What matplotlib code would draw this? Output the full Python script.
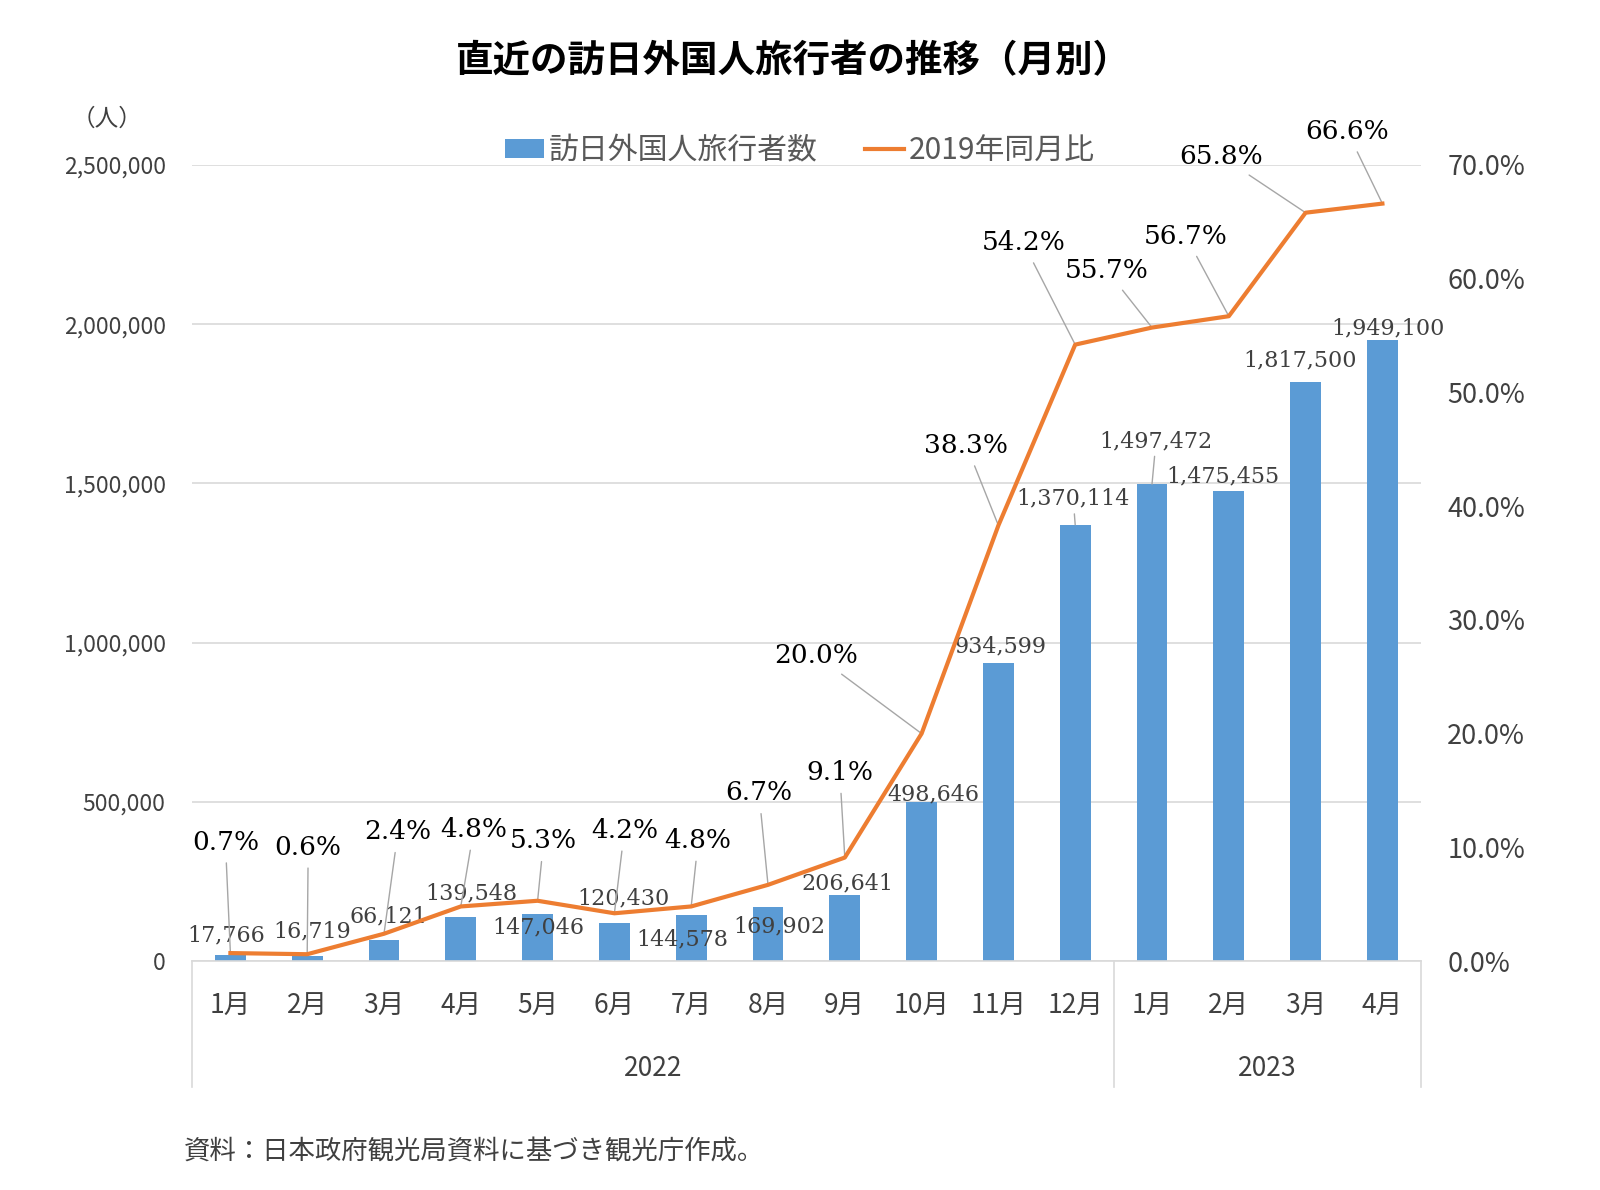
import matplotlib
matplotlib.use('Agg')
import matplotlib.pyplot as plt
import matplotlib.ticker as mticker
import matplotlib.transforms as mtransforms
from matplotlib.patches import Patch
from matplotlib.lines import Line2D
import numpy as np

plt.rcParams['font.family'] = ['Noto Sans CJK JP', 'DejaVu Sans']

months = ['1月', '2月', '3月', '4月', '5月', '6月', '7月', '8月', '9月', '10月', '11月', '12月',
          '1月', '2月', '3月', '4月']
years = ['2022', '2023']
year_span = [12, 4]
visitors = [17766, 16719, 66121, 139548, 147046, 120430, 144578, 169902, 206641,
            498646, 934599, 1370114, 1497472, 1475455, 1817500, 1949100]
ratio_2019 = [0.7, 0.6, 2.4, 4.8, 5.3, 4.2, 4.8, 6.7, 9.1,
              20.0, 38.3, 54.2, 55.7, 56.7, 65.8, 66.6]   # % of same month 2019

# where the data labels were dragged to (pixels from the point)
visitor_offsets = [(-4, 20), (5, 24), (4, 24), (11, 23), (1, -13), (9, 24), (-9, -24), (11, -19),
                   (3, 12), (12, 8), (2, 17), (-2, 26), (4, 43), (-6, 15), (-6, 22), (6, 12)]
visitor_leader = [11, 12]
ratio_offsets = [(-5, 111), (1, 107), (14, 102), (13, 77), (6, 60), (10, 83), (7, 66), (-9, 92),
                 (-5, 85), (-105, 78), (-32, 80), (-52, 102), (-45, 57), (-43, 80), (-84, 56), (-35, 72)]

bar_color = '#5B9BD5'
line_color = '#ED7D31'
grid_color = '#D9D9D9'
text_color = '#404040'
leader_color = '#A6A6A6'

fig = plt.figure(figsize=(16, 11.9), dpi=100)
ax = fig.add_axes([0.12, 0.1924, 0.768, 0.669])
x = np.arange(len(months))

ax.bar(x, visitors, width=0.4, color=bar_color, zorder=2)
ax.set_xlim(-0.5, len(months) - 0.5)
ax.set_ylim(0, 2500000)
ax.set_yticks(np.arange(0, 2500001, 500000))
ax.yaxis.set_major_formatter(mticker.FuncFormatter(lambda v, p: '{:,.0f}'.format(v)))
ax.yaxis.grid(True, color=grid_color, lw=1.2)
ax.set_axisbelow(True)
for s in ['top', 'left', 'right']:
    ax.spines[s].set_visible(False)
ax.spines['bottom'].set_color(grid_color)
ax.spines['bottom'].set_linewidth(1.2)
ax.tick_params(axis='y', length=0, pad=19, labelsize=16.5, labelcolor=text_color)
ax.set_xticks(x)
ax.set_xticklabels(months)
ax.tick_params(axis='x', length=0, pad=23, labelsize=19, labelcolor=text_color)

# second level of the category axis
trans = mtransforms.blended_transform_factory(ax.transData, ax.transAxes)
start = 0
bounds = [-0.5]
for yr, n in zip(years, year_span):
    ax.text(start + n / 2 - 0.5, -0.135, yr, transform=trans, ha='center', va='center',
            fontsize=19, color=text_color)
    start += n
    bounds.append(start - 0.5)
for b in bounds:
    ax.plot([b, b], [0, -0.158], transform=trans, color=grid_color, lw=1.2, clip_on=False)

for i, v in enumerate(visitors):
    arrow = dict(arrowstyle='-', color=leader_color, lw=1, shrinkA=1, shrinkB=0) if i in visitor_leader else None
    ax.annotate('{:,}'.format(v), (x[i], v), xytext=visitor_offsets[i], textcoords='offset pixels',
                ha='center', va='center', fontsize=16, family='DejaVu Serif', color=text_color,
                arrowprops=arrow, zorder=3)

ax2 = ax.twinx()
ax2.plot(x, ratio_2019, color=line_color, lw=3, zorder=4)
ax2.set_ylim(0, 70)
ax2.set_yticks(np.arange(0, 71, 10))
ax2.yaxis.set_major_formatter(mticker.FuncFormatter(lambda v, p: '{:.1f}%'.format(v)))
ax2.tick_params(axis='y', length=0, pad=19, labelsize=19.5, labelcolor=text_color)
for s in ax2.spines.values():
    s.set_visible(False)

for i, r in enumerate(ratio_2019):
    ax2.annotate('{:.1f}%'.format(r), (x[i], r), xytext=ratio_offsets[i], textcoords='offset pixels',
                 ha='center', va='center', fontsize=19, family='DejaVu Serif', color='black',
                 arrowprops=dict(arrowstyle='-', color=leader_color, lw=1, shrinkA=4, shrinkB=0))

handles = [Patch(facecolor=bar_color, edgecolor='none'),
           Line2D([0], [0], color=line_color, lw=3)]
leg = fig.legend(handles, ['訪日外国人旅行者数', '2019年同月比'], loc='center',
                 bbox_to_anchor=(800 / 1600, 1 - 151 / 1190), ncol=2, frameon=False,
                 fontsize=21.5, handlelength=1.3, handleheight=0.6, handletextpad=0.15, columnspacing=1.6)
for t in leg.get_texts():
    t.set_color('#595959')

fig.text(793 / 1600, 1 - 61 / 1190, '直近の訪日外国人旅行者の推移（月別）', ha='center', va='center',
         fontsize=27, fontweight='bold', color='black')
fig.text(107 / 1600, 1 - 119 / 1190, '（人）', ha='center', va='center', fontsize=17, color=text_color)
fig.text(184 / 1600, 1 - 1151 / 1190, '資料：日本政府観光局資料に基づき観光庁作成。', ha='left', va='center',
         fontsize=19, color=text_color)

fig.savefig('out.png', dpi=100)
